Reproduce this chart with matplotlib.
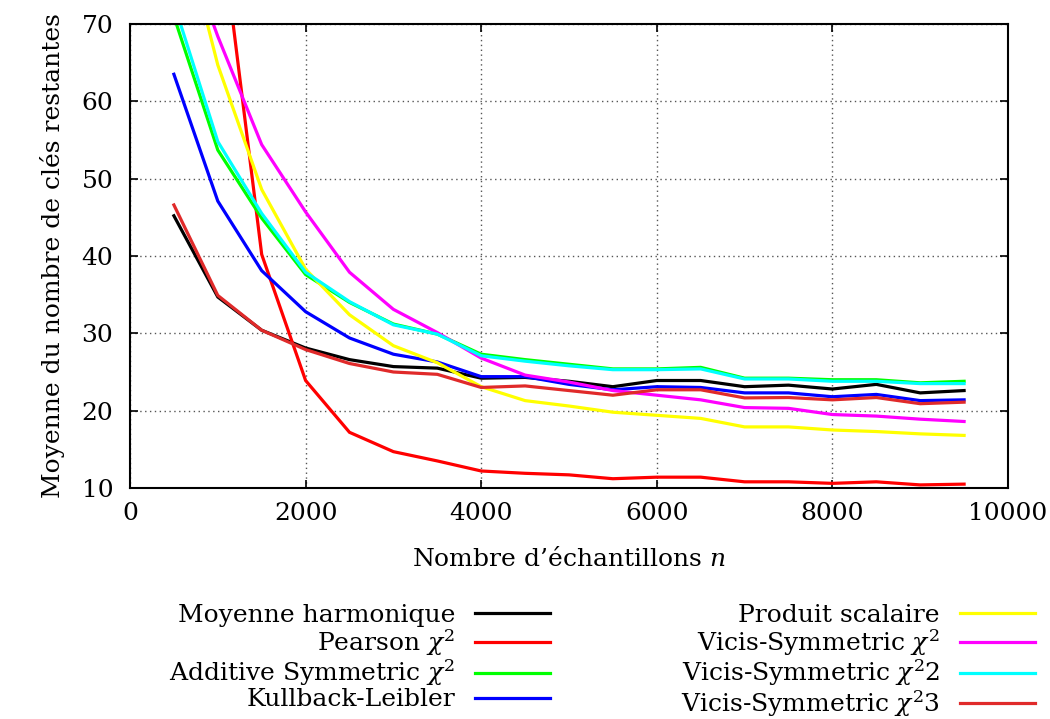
import matplotlib
matplotlib.use("Agg")
import matplotlib.pyplot as plt

plt.rcParams['font.family'] = ['DejaVu Serif']
plt.rcParams['mathtext.fontset'] = 'dejavuserif'

n = [500, 1000, 1500, 2000, 2500, 3000, 3500, 4000, 4500, 5000,
     5500, 6000, 6500, 7000, 7500, 8000, 8500, 9000, 9500]

harmonique = [45.2, 34.7, 30.4, 28.1, 26.6, 25.7, 25.5, 24.2, 24.3, 23.8,
              23.1, 23.9, 23.9, 23.1, 23.3, 22.8, 23.4, 22.3, 22.6]
pearson = [150.0, 86.0, 40.2, 23.9, 17.2, 14.7, 13.5, 12.2, 11.9, 11.7,
           11.2, 11.4, 11.4, 10.8, 10.8, 10.6, 10.8, 10.4, 10.5]
additive = [71.0, 53.7, 44.9, 37.6, 34.0, 31.2, 29.9, 27.3, 26.6, 26.0,
            25.4, 25.4, 25.6, 24.2, 24.2, 24.0, 24.0, 23.6, 23.8]
kullback = [63.5, 47.1, 38.1, 32.8, 29.4, 27.3, 26.3, 24.4, 24.4, 23.4,
            22.7, 23.1, 23.0, 22.3, 22.3, 21.8, 22.1, 21.3, 21.4]
produit = [87.0, 64.7, 48.6, 38.3, 32.4, 28.4, 26.2, 23.1, 21.3, 20.6,
           19.8, 19.4, 19.0, 17.9, 17.9, 17.5, 17.3, 17.0, 16.8]
vicis1 = [84.0, 68.4, 54.4, 45.7, 37.9, 33.1, 30.1, 26.8, 24.6, 23.7,
          22.6, 22.0, 21.4, 20.4, 20.3, 19.5, 19.3, 18.9, 18.6]
vicis2 = [72.7, 54.8, 45.5, 37.9, 34.1, 31.1, 29.9, 27.1, 26.4, 25.8,
          25.3, 25.3, 25.4, 24.1, 24.1, 23.8, 23.8, 23.5, 23.5]
vicis3 = [46.6, 34.9, 30.4, 27.9, 26.1, 25.0, 24.7, 23.0, 23.2, 22.6,
          22.0, 22.7, 22.7, 21.65, 21.7, 21.4, 21.7, 20.9, 21.1]

labels = ['Moyenne harmonique', r'Pearson $\chi^2$', r'Additive Symmetric $\chi^2$',
          'Kullback-Leibler', 'Produit scalaire', r'Vicis-Symmetric $\chi^2$',
          r'Vicis-Symmetric $\chi^2$2', r'Vicis-Symmetric $\chi^2$3']
series = [harmonique, pearson, additive, kullback, produit, vicis1, vicis2, vicis3]
colors = ['#000000', '#ff0000', '#00ff00', '#0000ff', '#ffff00', '#ff00ff', '#00ffff', '#e02a2a']

xticks = [0, 2000, 4000, 6000, 8000, 10000]
yticks = [10, 20, 30, 40, 50, 60, 70]

FS = 18
W, H = 1050, 719
fig = plt.figure(figsize=(W / 100, H / 100), dpi=100)
ax = fig.add_axes([130 / W, 1 - 488 / H, (1008 - 130) / W, (488 - 24) / H])

lines = []
for s, c, lab in zip(series, colors, labels):
    l, = ax.plot(n, s, color=c, lw=2.3, label=lab, solid_joinstyle='miter')
    lines.append(l)

ax.set_xlim(0, 10000)
ax.set_ylim(10, 70)
ax.set_xticks(xticks)
ax.set_yticks(yticks)
ax.tick_params(direction='in', top=True, right=True, length=6, width=1.2, labelsize=FS)
ax.tick_params(axis='x', pad=10)
ax.tick_params(axis='y', pad=12)
ax.grid(True, color='#555555', linestyle=(0, (1, 2.5)), linewidth=1.0)
for sp in ax.spines.values():
    sp.set_linewidth(1.5)

ax.set_xlabel(r"Nombre d’échantillons $n$", fontsize=FS, labelpad=16)
ax.set_ylabel('Moyenne du nombre de clés restantes', fontsize=FS, labelpad=12)

common = dict(frameon=False, fontsize=FS, markerfirst=False, borderpad=0,
              handlelength=3.0, handletextpad=0.8, labelspacing=0.0, borderaxespad=0)
leg1 = fig.legend(handles=lines[:4], loc='upper right',
                  bbox_to_anchor=(550 / W, 1 - 604 / H), **common)
leg2 = fig.legend(handles=lines[4:], loc='upper right',
                  bbox_to_anchor=(1035 / W, 1 - 604 / H), **common)

fig.savefig('out.png', dpi=100)
